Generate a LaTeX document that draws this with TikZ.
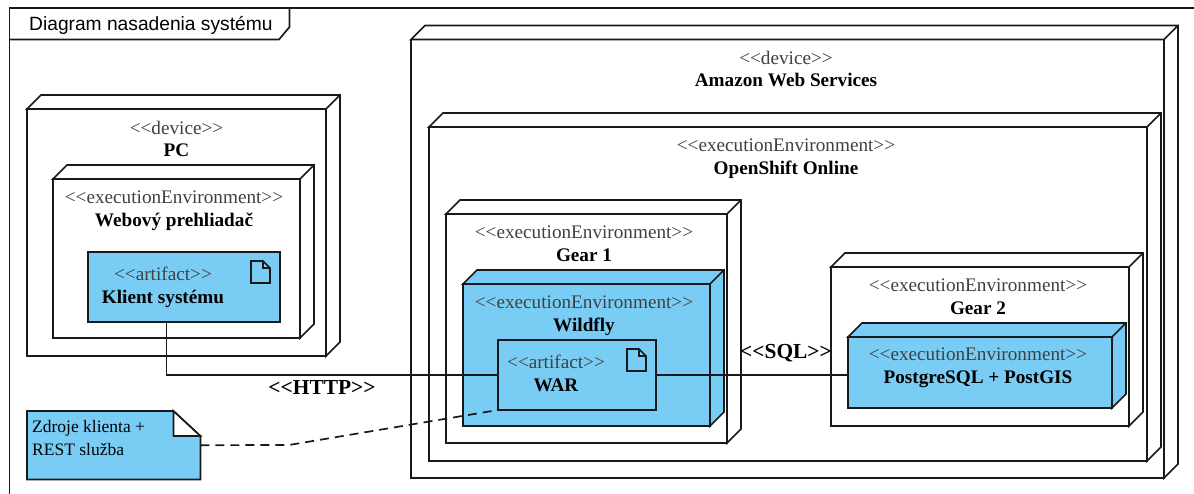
\documentclass[tikz,border=0pt]{standalone}
\usepackage{fontspec}
\setmainfont{Liberation Serif}
\newfontfamily\framefont{Liberation Sans}
\usepackage{tikz}
\definecolor{skyfill}{RGB}{121,205,245}
\newcommand{\stereo}[1]{\textcolor{black!75}{<{}<#1>{}>}}
\newcommand{\depthbox}[2]{\draw[boxline, fill=#2] (#1.north west) -- ++(14,-14) -- ([shift={(14,-14)}]#1.north east) -- ([shift={(14,-14)}]#1.south east) -- (#1.south east) -- (#1.north east) -- cycle (#1.north east) -- ++(14,-14);}
\newcommand{\docicon}[1]{\draw[boxline] ([shift={(-29,9)}]#1.north east) -- ++(12,0) -- ++(7,7) -- ++(0,15) -- ++(-19,0) -- cycle ([shift={(-17,9)}]#1.north east) -- ++(0,7) -- ++(7,0);}
\tikzset{
	boxline/.style={line width=1.7pt, draw=black!90},
	nodebox/.style={boxline, fill=white, anchor=north west, inner sep=0pt, outer sep=0pt},
	bluebox/.style={nodebox, fill=skyfill},
	boxtext/.style={align=center, inner sep=0pt, font=\fontsize{19.2}{22.8}\selectfont},
	linktext/.style={inner sep=0pt, font=\fontsize{21.4}{24}\selectfont\bfseries},
}
\begin{document}
\begin{tikzpicture}[x=1pt, y=-1pt]
	\useasboundingbox (0,0) rectangle (1194,494);

	\coordinate (frametop) at (1194,8);
	\coordinate (framebottom) at (9.5,494);
	\node[anchor=west, inner sep=0pt, font=\framefont\fontsize{19.2}{22}\selectfont] (frametitle) at (29,25) {Diagram nasadenia systému};
	\draw[boxline] (framebottom) |- (frametop);
	\draw[boxline] (9.5,39.5) -- (279,39.5) -- (289.5,27) -- (289.5,8);

	\node[nodebox, minimum width=299, minimum height=247] (pc) at (27,109) {};
	\depthbox{pc}{white}
	\node[nodebox, minimum width=247, minimum height=159] (browser) at (53,179) {};
	\depthbox{browser}{white}
	\node[bluebox, minimum width=192, minimum height=70] (client) at (88,252) {};
	\docicon{client}
	\node[boxtext] (pctext) at (176.5,139) {\stereo{device}\\\textbf{PC}};
	\node[boxtext] (browsertext) at (174,211) {\stereo{executionEnvironment}\\\textbf{Webový prehliadač}};
	\node[boxtext] (clienttext) at (163,287.5) {\stereo{artifact}\\\textbf{Klient systému}};

	\node[nodebox, minimum width=753, minimum height=438.5] (aws) at (411,39.5) {};
	\depthbox{aws}{white}
	\node[nodebox, minimum width=718, minimum height=334] (openshift) at (429,127) {};
	\depthbox{openshift}{white}
	\node[boxtext] (awstext) at (786,69) {\stereo{device}\\\textbf{Amazon Web Services}};
	\node[boxtext] (openshifttext) at (786,158.5) {\stereo{executionEnvironment}\\\textbf{OpenShift Online}};

	\node[nodebox, minimum width=281, minimum height=229] (gearone) at (446,214) {};
	\depthbox{gearone}{white}
	\node[bluebox, minimum width=247, minimum height=142] (wildfly) at (463,284) {};
	\depthbox{wildfly}{skyfill}
	\node[bluebox, minimum width=158, minimum height=70] (war) at (498,340) {};
	\docicon{war}
	\node[boxtext] (gearonetext) at (584,244) {\stereo{executionEnvironment}\\\textbf{Gear 1}};
	\node[boxtext] (wildflytext) at (584,316) {\stereo{executionEnvironment}\\\textbf{Wildfly}};
	\node[boxtext] (wartext) at (556,373.5) {\stereo{artifact}\\\textbf{WAR}};

	\node[nodebox, minimum width=298, minimum height=159] (geartwo) at (831,267) {};
	\depthbox{geartwo}{white}
	\node[bluebox, minimum width=264, minimum height=71] (postgres) at (848,337) {};
	\depthbox{postgres}{skyfill}
	\node[boxtext] (geartwotext) at (978,297) {\stereo{executionEnvironment}\\\textbf{Gear 2}};
	\node[boxtext] (postgrestext) at (978,368) {\stereo{executionEnvironment}\\\textbf{PostgreSQL + PostGIS}};

	\node[anchor=north west, inner sep=0pt, minimum width=173, minimum height=68] (note) at (27,411) {};
	\draw[boxline, fill=skyfill] (note.north west) -- ([xshift=-27]note.north east) -- ([yshift=-25]note.north east) -- (note.south east) -- (note.south west) -- cycle;
	\draw[boxline, fill=white] ([xshift=-27]note.north east) -- ([yshift=-25]note.north east) -- ([shift={(-27,25)}]note.north east) -- cycle;
	\node[anchor=west, align=left, inner sep=0pt, font=\fontsize{17.5}{22.5}\selectfont] (notetext) at (32,438) {Zdroje klienta +\\REST služba};

	\coordinate (httpbend) at (166.5,375);
	\coordinate (notebend) at (289,445);
	\draw[boxline] (client.south -| httpbend) -- (httpbend) -- (war.west);
	\draw[boxline] (war.east) -- (war.east -| postgres.west);
	\draw[boxline, dashed, dash pattern=on 9pt off 6pt] (note.east) -- (notebend) -- (war.south west);
	\node[linktext] (httplabel) at (322,387) {<{}<HTTP>{}>};
	\node[linktext] (sqllabel) at (786,353) {<{}<SQL>{}>};
\end{tikzpicture}
\end{document}
